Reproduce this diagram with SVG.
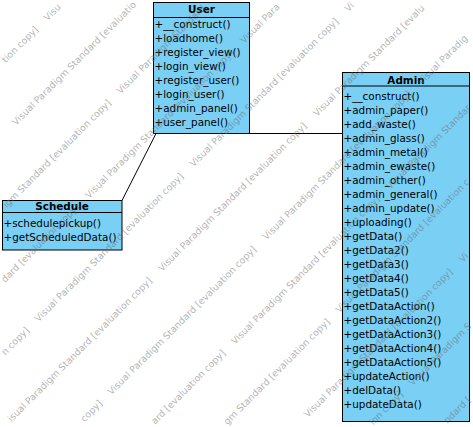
<svg xmlns="http://www.w3.org/2000/svg" width="473" height="427" viewBox="0 0 473 427">
<style>
.box{fill:#7ACFF5;stroke:#000;stroke-width:1}
.div{stroke:#000;stroke-width:1}
.title{font-family:"DejaVu Sans",Verdana,sans-serif;font-size:10.4px;font-weight:bold;text-anchor:middle;fill:#000}
.m{font-family:"DejaVu Sans",Verdana,sans-serif;font-size:10.4px;fill:#000}
.conn{stroke:#000;stroke-width:1;fill:none}
.wm{font-family:"DejaVu Sans",Verdana,sans-serif;font-size:9.4px;fill:#666;fill-opacity:0.5}
</style>
<rect width="473" height="427" fill="#fff"/>
<g id="connectors">
<line class="conn" x1="122" y1="200.5" x2="156" y2="133.5"/>
<line class="conn" x1="249.5" y1="133.5" x2="342.5" y2="133.5"/>
</g>
<g id="User">
<rect class="box" x="153.5" y="2.5" width="96" height="131"/>
<line class="div" x1="153.5" y1="17.5" x2="249.5" y2="17.5"/>
<text class="title" x="201.5" y="13">User</text>
<text class="m" x="154.5" y="28">+__construct()</text>
<text class="m" x="154.5" y="42">+loadhome()</text>
<text class="m" x="154.5" y="56">+register_view()</text>
<text class="m" x="154.5" y="70">+login_view()</text>
<text class="m" x="154.5" y="84">+register_user()</text>
<text class="m" x="154.5" y="98">+login_user()</text>
<text class="m" x="154.5" y="112">+admin_panel()</text>
<text class="m" x="154.5" y="126">+user_panel()</text>
</g>
<g id="Admin">
<rect class="box" x="342.5" y="72.5" width="127" height="349"/>
<line class="div" x1="342.5" y1="86" x2="469.5" y2="86"/>
<text class="title" x="406" y="83.5">Admin</text>
<text class="m" x="343.5" y="99.5">+__construct()</text>
<text class="m" x="343.5" y="113.5">+admin_paper()</text>
<text class="m" x="343.5" y="127.5">+add_waste()</text>
<text class="m" x="343.5" y="141.5">+admin_glass()</text>
<text class="m" x="343.5" y="155.5">+admin_metal()</text>
<text class="m" x="343.5" y="169.5">+admin_ewaste()</text>
<text class="m" x="343.5" y="183.5">+admin_other()</text>
<text class="m" x="343.5" y="197.5">+admin_general()</text>
<text class="m" x="343.5" y="211.5">+admin_update()</text>
<text class="m" x="343.5" y="225.5">+uploading()</text>
<text class="m" x="343.5" y="239.5">+getData()</text>
<text class="m" x="343.5" y="253.5">+getData2()</text>
<text class="m" x="343.5" y="267.5">+getData3()</text>
<text class="m" x="343.5" y="281.5">+getData4()</text>
<text class="m" x="343.5" y="295.5">+getData5()</text>
<text class="m" x="343.5" y="309.5">+getDataAction()</text>
<text class="m" x="343.5" y="323.5">+getDataAction2()</text>
<text class="m" x="343.5" y="337.5">+getDataAction3()</text>
<text class="m" x="343.5" y="351.5">+getDataAction4()</text>
<text class="m" x="343.5" y="365.5">+getDataAction5()</text>
<text class="m" x="343.5" y="379.5">+updateAction()</text>
<text class="m" x="343.5" y="393.5">+delData()</text>
<text class="m" x="343.5" y="407.5">+updateData()</text>
</g>
<g id="Schedule">
<rect class="box" x="2.5" y="200.5" width="119.5" height="49.5"/>
<line class="div" x1="2.5" y1="212.5" x2="122" y2="212.5"/>
<text class="title" x="62" y="210">Schedule</text>
<text class="m" x="3.5" y="227">+schedulepickup()</text>
<text class="m" x="3.5" y="240.5">+getScheduledData()</text>
</g>
<g id="watermark" transform="rotate(-45)">
<text class="wm" x="-40.77" y="48.8">tion copy]</text>
<text class="wm" x="18.4" y="48.8">Visu</text>
<text class="wm" x="-77.8" y="100.4">Visual Paradigm Standard [evaluatio</text>
<text class="wm" x="-142.52" y="152">igm Standard [evaluation copy]</text>
<text class="wm" x="18.4" y="152">Visual Paradigm Standard</text>
<text class="wm" x="-196.62" y="203.6">dard [evaluation copy]</text>
<text class="wm" x="-77.8" y="203.6">Visual Paradigm Standard [evaluation copy]</text>
<text class="wm" x="141.4" y="203.6">Visual Para</text>
<text class="wm" x="-247.93" y="255.2">n copy]</text>
<text class="wm" x="-200.8" y="255.2">Visual Paradigm Standard [evaluation copy]</text>
<text class="wm" x="18.4" y="255.2">Visual Paradigm Standard [evaluation copy]</text>
<text class="wm" x="237.6" y="255.2">Vi</text>
<text class="wm" x="-290.57" y="306.8">isual Paradigm Standard [evaluation copy]</text>
<text class="wm" x="-77.8" y="306.8">Visual Paradigm Standard [evaluation copy]</text>
<text class="wm" x="141.4" y="306.8">Visual Paradigm Standard [evalu</text>
<text class="wm" x="-238.98" y="358.4">copy]</text>
<text class="wm" x="-200.8" y="358.4">Visual Paradigm Standard [evaluation copy]</text>
<text class="wm" x="18.4" y="358.4">Visual Paradigm Standard [evaluation copy]</text>
<text class="wm" x="237.6" y="358.4">Visual Paradig</text>
<text class="wm" x="-190.65" y="410">ard [evaluation copy]</text>
<text class="wm" x="-77.8" y="410">Visual Paradigm Standard [evaluation copy]</text>
<text class="wm" x="141.4" y="410">Visual Paradigm Standar</text>
<text class="wm" x="-139.91" y="461.6">gm Standard [evaluation copy]</text>
<text class="wm" x="18.4" y="461.6">Visual Paradigm Standard [evaluation c</text>
<text class="wm" x="-77.8" y="513.2">Visual Paradigm Standard [evaluation copy]</text>
<text class="wm" x="141.4" y="513.2">Vi</text>
<text class="wm" x="-37.09" y="564.8">ion copy]</text>
<text class="wm" x="18.4" y="564.8">Visual Paradigm S</text>
<text class="wm" x="16.62" y="616.4">ndard [</text>
</g>
</svg>
